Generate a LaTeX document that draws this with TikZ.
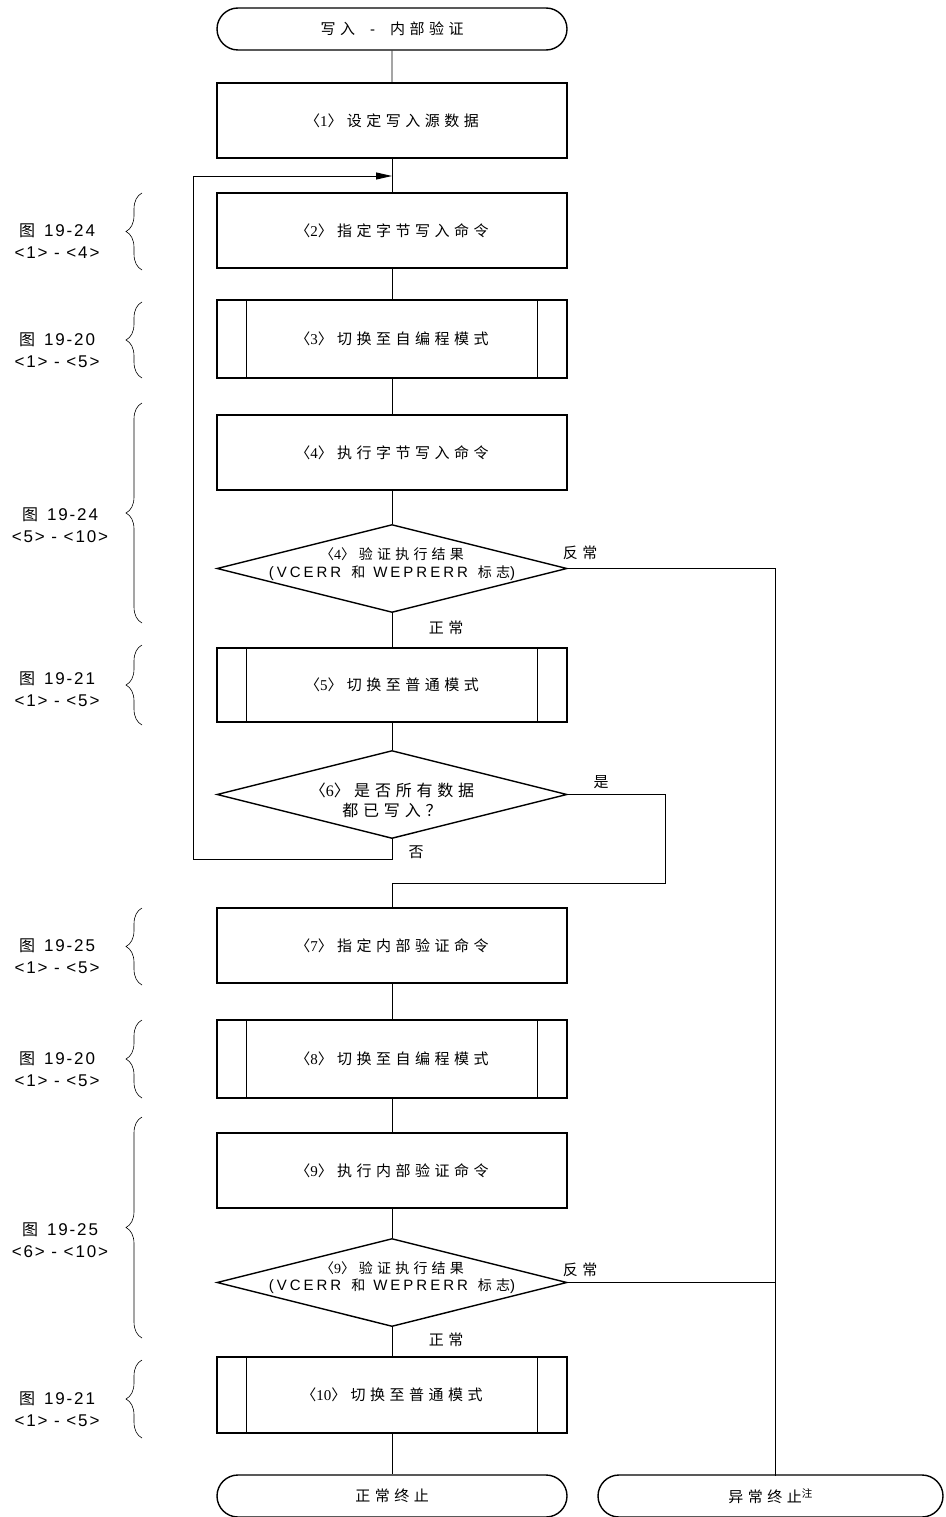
\documentclass[tikz,border=0pt]{standalone}
\usepackage{fontspec}
\setmainfont{Liberation Sans}
\newfontfamily\cjk[LetterSpace=30]{Noto Sans CJK SC}
\newfontfamily\cjkn{Noto Sans CJK SC}
\newfontfamily\lat[LetterSpace=11]{Liberation Sans}
\newfontfamily\latw[LetterSpace=20]{Liberation Sans}
\newfontfamily\digs{Liberation Serif}
\usetikzlibrary{shapes.geometric,shapes.misc,arrows.meta,decorations.pathreplacing}
\newcommand{\nb}[1]{{\cjkn 〈}{\digs #1}{\cjkn 〉}}
\newcommand{\fig}[2]{{\fontsize{16}{22}\selectfont\cjkn 图}\hspace{9pt}{\lat #1}\\{\lat #2}}
\newcommand{\vcline}{{\fontsize{15}{17}\selectfont\latw (VCERR}\hspace{10pt}{\cjk 和}\hspace{8pt}{\fontsize{15}{17}\selectfont\latw WEPRERR}\hspace{10pt}{\cjk 标志}{\fontsize{15}{17}\selectfont\latw )}}
\begin{document}
\begin{tikzpicture}[x=1pt,y=-1pt,
 every node/.style={inner sep=0pt},
 proc/.style={draw,line width=1.5pt,minimum width=350pt,minimum height=75pt,font=\fontsize{15}{17}\selectfont},
 term/.style={draw,rounded rectangle,line width=1.4pt,minimum width=350pt,minimum height=42pt,font=\fontsize{15}{17}\selectfont},
 dec/.style={draw,diamond,line width=1.4pt,minimum width=350pt,minimum height=88pt},
 dtext/.style={align=center,font=\fontsize{14}{18}\selectfont},
 lab/.style={align=center,font=\fontsize{17}{22}\selectfont},
 yn/.style={font=\fontsize{15}{17}\selectfont},
 conn/.style={line width=0.9pt},
 arr/.style={line width=0.9pt,-{Triangle[length=16pt,width=7pt]}},
 brc/.style={decorate,decoration={brace,amplitude=16pt},line width=0.6pt}]
\useasboundingbox (0,0) rectangle (945,1517);

% main column
\node[term] (start) at (392,29) {{\cjk 写入}\hspace{15pt}-\hspace{15pt}{\cjk 内部验证}};
\node[proc] (b1) at (392,120.5) {\nb{1} \cjk 设定写入源数据};
\node[proc] (b2) at (392,230.5) {\nb{2} \cjk 指定字节写入命令};
\node[proc,minimum height=78pt] (b3) at (392,339) {\nb{3} \cjk 切换至自编程模式};
\node[proc] (b4) at (392,452.5) {\nb{4} \cjk 执行字节写入命令};
\node[dec] (d4) at (392,568.5) {};
\node[dtext] (d4t) at (392,564) {\nb{4} {\cjk 验证执行结果}\\\vcline};
\node[proc,minimum height=74pt] (b5) at (392,685) {\nb{5} \cjk 切换至普通模式};
\node[dec] (d6) at (392,794.5) {};
\node[dtext,font=\fontsize{16}{20}\selectfont] (d6t) at (392,800) {\nb{6} {\cjk 是否所有数据}\\{\cjk 都已写入？}};
\node[proc] (b7) at (392,945.5) {\nb{7} \cjk 指定内部验证命令};
\node[proc,minimum height=78pt] (b8) at (392,1059) {\nb{8} \cjk 切换至自编程模式};
\node[proc] (b9) at (392,1170.5) {\nb{9} \cjk 执行内部验证命令};
\node[dec] (d9) at (392,1282.5) {};
\node[dtext,font=\fontsize{14}{17}\selectfont] (d9t) at (392,1278) {\nb{9} {\cjk 验证执行结果}\\\vcline};
\node[proc,minimum height=76pt] (b10) at (392,1395) {\nb{10} \cjk 切换至普通模式};
\node[term] (endok) at (392,1496) {\cjk 正常终止};
\node[term,minimum width=345pt] (enderr) at (770.5,1496) {{\cjk 异常终止}\textsuperscript{\cjkn 注}};

% predefined-process side bars
\foreach \n in {b3,b5,b8,b10}{
  \draw[line width=0.8pt] ([xshift=30pt]\n.north west) -- ([xshift=30pt]\n.south west);
  \draw[line width=0.8pt] ([xshift=-30pt]\n.north east) -- ([xshift=-30pt]\n.south east);
}

% connectors
\coordinate (j1) at (392,176);
\coordinate (lpA) at (392,859);
\coordinate (lpB) at (193,859);
\coordinate (lpC) at (193,176);
\coordinate (yA) at (665,794.5);
\coordinate (yB) at (665,883);
\coordinate (yC) at (392,883);
\coordinate (eA) at (775,568.5);
\coordinate (eB) at (775,1282.5);
\coordinate (eC) at (775,1476);

\draw[conn] (start) -- (b1);
\draw[conn] (b1) -- (b2);
\draw[conn] (b2) -- (b3);
\draw[conn] (b3) -- (b4);
\draw[conn] (b4) -- (d4.north);
\draw[conn] (d4.south) -- (b5);
\draw[conn] (b5) -- (d6.north);
\draw[arr] (d6.south) -- (lpA) -- (lpB) -- (lpC) -- (j1);
\draw[conn] (d6.east) -- (yA) -- (yB) -- (yC) -- (b7.north);
\draw[conn] (b7) -- (b8);
\draw[conn] (b8) -- (b9);
\draw[conn] (b9) -- (d9.north);
\draw[conn] (d9.south) -- (b10);
\draw[conn] (b10) -- (endok);
\draw[conn] (d4.east) -- (eA) -- (eB) -- (eC);
\draw[conn] (d9.east) -- (eB);

% branch labels
\node[yn] (n1) at (580,553) {\cjk 反常};
\node[yn] (n2) at (446,628) {\cjk 正常};
\node[yn] (n3) at (601,782) {\cjk 是};
\node[yn] (n4) at (416,852) {\cjk 否};
\node[yn] (n5) at (580,1270) {\cjk 反常};
\node[yn] (n6) at (446,1340) {\cjk 正常};

% braces and references
\draw[brc] (142,270) -- (142,193);
\draw[brc] (142,378) -- (142,302);
\draw[brc] (142,623) -- (142,403);
\draw[brc] (142,725) -- (142,645);
\draw[brc] (142,985) -- (142,908);
\draw[brc] (142,1098) -- (142,1020);
\draw[brc] (142,1338) -- (142,1117);
\draw[brc] (142,1438) -- (142,1360);

\node[lab] (r1) at (57,241) {\fig{19-24}{<1> - <4>}};
\node[lab] (r2) at (57,350) {\fig{19-20}{<1> - <5>}};
\node[lab] (r3) at (60,525) {\fig{19-24}{<5> - <10>}};
\node[lab] (r4) at (57,689) {\fig{19-21}{<1> - <5>}};
\node[lab] (r5) at (57,956) {\fig{19-25}{<1> - <5>}};
\node[lab] (r6) at (57,1069) {\fig{19-20}{<1> - <5>}};
\node[lab] (r7) at (60,1240) {\fig{19-25}{<6> - <10>}};
\node[lab] (r8) at (57,1409) {\fig{19-21}{<1> - <5>}};
\end{tikzpicture}
\end{document}
